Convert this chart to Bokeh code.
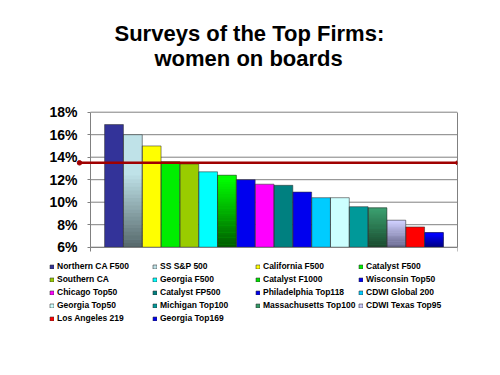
from bokeh.plotting import figure
from bokeh.models import (ColumnDataSource, Legend, LegendItem, Title, FixedTicker,
                          Range1d, Arrow, PrintfTickFormatter, CustomJSTickFormatter,
                          LinearAxis)
from bokeh.embed import file_html
from bokeh.resources import INLINE

# ---------------- data ----------------
names = ["Northern CA F500", "SS S&P 500", "California F500", "Catalyst F500",
         "Southern CA", "Georgia F500", "Catalyst F1000", "Wisconsin Top50",
         "Chicago Top50", "Catalyst FP500", "Philadelphia Top118", "CDWI Global 200",
         "Georgia Top50", "Michigan Top100", "Massachusetts Top100", "CDWI Texas Top95",
         "Los Angeles 219", "Georgia Top169"]
values = [16.9, 16.0, 15.0, 13.6, 13.4, 12.7, 12.4, 12.0, 11.6, 11.5,
          10.9, 10.4, 10.4, 9.6, 9.5, 8.4, 7.8, 7.3]
reference_pct = 13.5
y_ticks = [6, 8, 10, 12, 14, 16, 18]

# ---------------- styles ----------------
colors = ["#333399", "#BFE2E8", "#FFFF00", "#00EE00", "#99CC00", "#00FFFF",
          "#00E000", "#0000EE", "#FF00FF", "#008080", "#0000EE", "#00CCFF",
          "#CCFFFF", "#009999", "#339966", "#C8C8F8", "#FF0000", "#0000EE"]
# gradient bars: index -> (top colour, bottom colour, fraction kept solid at top)
gradients = {1: ("#BFE2E8", "#56686B", 0.35),
             6: ("#00FF00", "#005A00", 0.05),
             14: ("#3A9E6E", "#1A4A2E", 0.05),
             15: ("#D0D0FF", "#646488", 0.05),
             17: ("#0000FF", "#000078", 0.15)}

BASE = 6
TOP = 18
FONT = "Liberation Sans"
GRID = "#808080"
LINE_RED = "#A00000"

# geometry (pixels)
W, H = 500, 375
FRAME_LEFT, FRAME_TOP, FRAME_BOTTOM_BORDER, FRAME_RIGHT_BORDER = 46, 100, 30, 43
AXIS_X = 90            # left edge of the plot area
AXIS_TOP = 111.7       # y pixel of the 18% line
PX_PER_X = 18.83       # pixels per bar slot
PX_PER_PCT = 11.25     # pixels per percentage point
X_LO, X_HI = -1.25, 18.25   # plot-area bounds in bar units


def hex2rgb(h):
    h = h.lstrip("#")
    return [int(h[i:i + 2], 16) for i in (0, 2, 4)]


def mix(c1, c2, t):
    a, b = hex2rgb(c1), hex2rgb(c2)
    return "#%02x%02x%02x" % tuple(int(round(a[k] + (b[k] - a[k]) * t)) for k in range(3))


frame_h = H - FRAME_TOP - FRAME_BOTTOM_BORDER
x_start = X_LO - (AXIS_X - FRAME_LEFT) / PX_PER_X
y_end = TOP + (AXIS_TOP - FRAME_TOP) / PX_PER_PCT
y_start = y_end - frame_h / PX_PER_PCT

xs = list(range(len(names)))
src = ColumnDataSource(dict(x=xs, top=values, name=names, color=colors))

p = figure(width=W, height=H, output_backend="svg", toolbar_location=None,
           x_range=Range1d(x_start, X_HI), y_range=Range1d(y_start, y_end),
           min_border_left=FRAME_LEFT, min_border_right=FRAME_RIGHT_BORDER,
           min_border_top=FRAME_TOP, min_border_bottom=FRAME_BOTTOM_BORDER,
           background_fill_color="white", border_fill_color="white")
p.outline_line_color = None
p.xgrid.visible = False
p.ygrid.visible = False

# y axis, pinned at the left edge of the plot area
p.yaxis.fixed_location = X_LO
p.yaxis.bounds = (BASE, TOP)
p.yaxis.ticker = FixedTicker(ticks=y_ticks)
p.yaxis.formatter = PrintfTickFormatter(format="%d%%")
p.yaxis.major_label_text_font = FONT
p.yaxis.major_label_text_font_size = "14px"
p.yaxis.major_label_text_font_style = "bold"
p.yaxis.major_label_text_color = "#000000"
p.yaxis.major_label_standoff = 10
p.yaxis.major_tick_out = 3
p.yaxis.major_tick_in = 0
p.yaxis.minor_tick_line_color = None
p.yaxis.axis_line_color = GRID
p.yaxis.major_tick_line_color = GRID

# x axis pinned at 6%, only end ticks, no labels
p.xaxis.fixed_location = BASE
p.xaxis.bounds = (X_LO, X_HI)
p.xaxis.ticker = FixedTicker(ticks=[X_LO, X_HI])
p.xaxis.formatter = CustomJSTickFormatter(code="return ''")
p.xaxis.major_label_standoff = 0
p.xaxis.major_tick_out = 4
p.xaxis.major_tick_in = 0
p.xaxis.minor_tick_line_color = None
p.xaxis.axis_line_color = GRID
p.xaxis.major_tick_line_color = GRID

# right border of the plot area
right_axis = LinearAxis(bounds=(BASE, TOP), ticker=FixedTicker(ticks=[]),
                        axis_line_color=GRID, major_tick_line_color=None,
                        minor_tick_line_color=None)
p.add_layout(right_axis, "right")

# horizontal gridlines between the axis and the right border
p.segment(x0=X_LO, x1=X_HI, y0=y_ticks, y1=y_ticks, line_color=GRID, line_width=1)

# solid bars
fill_r = p.vbar(x="x", top="top", bottom=BASE, width=1.0, source=src,
                fill_color="color", line_color=None)

# gradient overlays
gx, gb, gt, gc = [], [], [], []
N = 30
for i, (c_top, c_bot, hold) in gradients.items():
    v = values[i]
    for k in range(N):
        hi = v - (v - BASE) * k / N
        lo = v - (v - BASE) * (k + 1) / N
        if k > 0:
            hi += 0.03
        t = (k + 0.5) / N
        tt = 0 if t < hold else (t - hold) / (1 - hold)
        gx.append(xs[i]); gt.append(hi); gb.append(lo); gc.append(mix(c_top, c_bot, tt))
p.vbar(x=gx, top=gt, bottom=gb, width=1.0, fill_color=gc, line_color=None)

# outlines
line_r = p.vbar(x="x", top="top", bottom=BASE, width=1.0, source=src,
                fill_alpha=0, line_color="#303030", line_alpha=0.7, line_width=0.8)

# reference line with end dots
ref_x0 = X_LO - 11 / PX_PER_X
ref_x1 = X_HI + 0.5 / PX_PER_X
p.add_layout(Arrow(start=None, end=None, x_start=ref_x0, y_start=reference_pct,
                   x_end=ref_x1, y_end=reference_pct, line_color=LINE_RED,
                   line_width=2.5))
p.scatter(x=[ref_x0, ref_x1], y=[reference_pct, reference_pct], size=4.5,
          marker="circle", fill_color=LINE_RED, line_color=LINE_RED)

# legend
items = [LegendItem(label=n, renderers=[fill_r, line_r], index=i) for i, n in enumerate(names)]
legend_top = 259.5
legend_h = 5 * 13
legend = Legend(items=items, ncols=4, orientation="horizontal",
                location=(49 - FRAME_LEFT, (H - FRAME_BOTTOM_BORDER) - legend_top - legend_h),
                glyph_width=5, glyph_height=5,
                label_standoff=3, label_width=95, label_height=13, spacing=0,
                padding=0, margin=0, border_line_alpha=0, background_fill_alpha=0,
                label_text_font=FONT, label_text_font_size="8.5px",
                label_text_font_style="bold", label_text_color="#000000")
p.add_layout(legend, "center")

title_font = dict(text_color="#000000", text_font=FONT, text_font_size="22px",
                  text_font_style="bold")
p.add_layout(Title(text="women on boards", align="left", offset=154 - FRAME_LEFT,
                   standoff=84 - 2 * (112 - FRAME_TOP), **title_font), "above")
p.add_layout(Title(text="Surveys of the Top Firms:", align="left", offset=114 - FRAME_LEFT,
                   standoff=-88 + 2 * (112 - FRAME_TOP), **title_font), "above")

open("out.html", "w").write(file_html(p, INLINE))
